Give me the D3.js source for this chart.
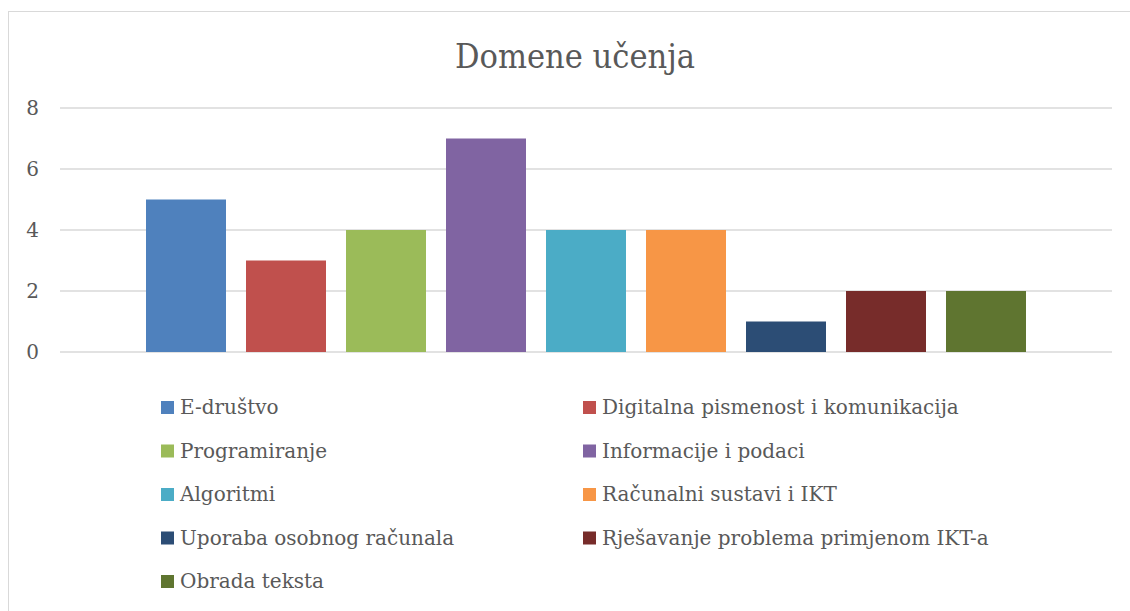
<!DOCTYPE html>
<html>
<head>
<meta charset="utf-8">
<script src="https://cdn.jsdelivr.net/npm/d3@7"></script>
<style>
  body { margin: 0; background: #fff; }
  text { font-family: "DejaVu Serif", "Liberation Serif", serif; fill: #595959; }
</style>
</head>
<body>
<div id="chart"></div>
<script>
// data
const categories = ["E-društvo", "Digitalna pismenost i komunikacija", "Programiranje",
  "Informacije i podaci", "Algoritmi", "Računalni sustavi i IKT",
  "Uporaba osobnog računala", "Rješavanje problema primjenom IKT-a", "Obrada teksta"];
const values = [5, 3, 4, 7, 4, 4, 1, 2, 2];
const colors = ["#4F81BD", "#C0504D", "#9BBB59", "#8064A2", "#4BACC6",
  "#F79646", "#2C4D75", "#772C2A", "#5F7530"];
const yTicks = [0, 2, 4, 6, 8];

const width = 1130, height = 611;

const svg = d3.select("#chart")
  .append("svg")
    .attr("width", width)
    .attr("height", height);

// chart frame
svg.append("rect")
  .attr("x", 8.5).attr("y", 11.5)
  .attr("width", 1140).attr("height", 620)
  .attr("fill", "none")
  .attr("stroke", "#d9d9d9");

// title
svg.append("text")
  .attr("x", 575).attr("y", 68)
  .attr("text-anchor", "middle")
  .style("font-family", "'DejaVu Serif Condensed', 'DejaVu Serif', serif")
  .style("font-size", "34px")
  .text("Domene učenja");

// scales
const x = d3.scaleBand()
  .domain(categories)
  .range([136, 1036])
  .paddingInner(0.2)
  .paddingOuter(0.1);

const y = d3.scaleLinear()
  .domain([0, 8])
  .range([352, 108]);

// gridlines
svg.append("g")
  .selectAll("line")
  .data(yTicks)
  .join("line")
    .attr("x1", 60).attr("x2", 1112)
    .attr("y1", d => y(d)).attr("y2", d => y(d))
    .attr("stroke", "#d9d9d9")
    .attr("stroke-width", 1.5);

// y tick labels
svg.append("g")
  .selectAll("text")
  .data(yTicks)
  .join("text")
    .attr("x", 39)
    .attr("y", d => y(d))
    .attr("dy", "0.35em")
    .attr("text-anchor", "end")
    .style("font-size", "20px")
    .text(d => d);

// bars
svg.append("g")
  .selectAll("rect")
  .data(values)
  .join("rect")
    .attr("x", (d, i) => x(categories[i]))
    .attr("y", d => y(d))
    .attr("width", x.bandwidth())
    .attr("height", d => y(0) - y(d))
    .attr("fill", (d, i) => colors[i]);

// legend, two columns
const legend = svg.append("g")
  .selectAll("g")
  .data(categories)
  .join("g")
    .attr("transform", (d, i) => `translate(${i % 2 === 0 ? 161 : 583}, ${407 + Math.floor(i / 2) * 43.5})`);

legend.append("rect")
  .attr("x", 0).attr("y", -6)
  .attr("width", 13).attr("height", 13)
  .attr("fill", (d, i) => colors[i]);

legend.append("text")
  .attr("x", 19)
  .attr("dy", "0.35em")
  .style("font-size", "20px")
  .text(d => d);
</script>
</body>
</html>
